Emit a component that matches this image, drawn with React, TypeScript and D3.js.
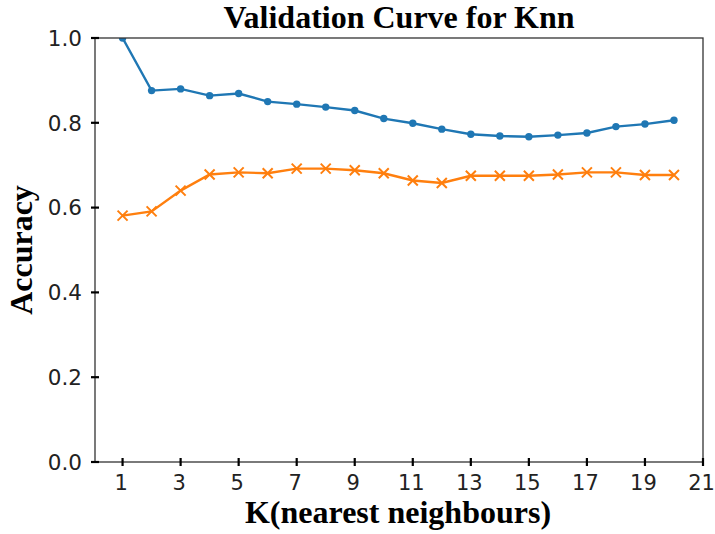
import React from "react";
import * as d3 from "d3";

// K values (number of nearest neighbours)
const kValues: number[] = [1, 2, 3, 4, 5, 6, 7, 8, 9, 10, 11, 12, 13, 14, 15, 16, 17, 18, 19, 20];
// Training accuracy
const trainScores: number[] = [1.0, 0.876, 0.88, 0.864, 0.869, 0.85, 0.844, 0.837, 0.829, 0.81, 0.799, 0.785, 0.773, 0.769, 0.767, 0.771, 0.776, 0.791, 0.797, 0.806];
// Validation accuracy
const testScores: number[] = [0.581, 0.591, 0.64, 0.678, 0.683, 0.681, 0.692, 0.692, 0.688, 0.681, 0.664, 0.658, 0.675, 0.675, 0.675, 0.678, 0.683, 0.683, 0.677, 0.677];
const xTicks: number[] = [1, 3, 5, 7, 9, 11, 13, 15, 17, 19, 21];
const yTicks: number[] = [0, 0.2, 0.4, 0.6, 0.8, 1.0];

const W = 715;
const H = 534;
const M = { left: 95, right: 703, top: 38, bottom: 462 };

export default function App() {
  const x = d3.scaleLinear().domain([0.05, 21]).range([M.left, M.right]);
  const y = d3.scaleLinear().domain([0, 1]).range([M.bottom, M.top]);

  const line = d3
    .line<number>()
    .x((_, i) => x(kValues[i]))
    .y((d) => y(d));

  const serif = "'Liberation Serif', 'Times New Roman', serif";
  const sans = "'DejaVu Sans', sans-serif";
  const blue = "#1f77b4";
  const orange = "#ff7f0e";
  const xr = 5;

  return (
    <svg width={W} height={H} style={{ position: "absolute", left: 0, top: 0, background: "#fff" }}>
      <defs>
        <clipPath id="plot-clip">
          <rect x={M.left} y={M.top} width={M.right - M.left} height={M.bottom - M.top} />
        </clipPath>
      </defs>

      <g clipPath="url(#plot-clip)">
        <path d={line(trainScores) || ""} fill="none" stroke={blue} strokeWidth={2.4} />
        {trainScores.map((v, i) => (
          <circle key={`t${i}`} cx={x(kValues[i])} cy={y(v)} r={3.7} fill={blue} />
        ))}
        <path d={line(testScores) || ""} fill="none" stroke={orange} strokeWidth={2.4} />
        {testScores.map((v, i) => {
          const cx = x(kValues[i]);
          const cy = y(v);
          return (
            <path
              key={`v${i}`}
              d={`M${cx - xr},${cy - xr}L${cx + xr},${cy + xr}M${cx - xr},${cy + xr}L${cx + xr},${cy - xr}`}
              stroke={orange}
              strokeWidth={2}
              fill="none"
            />
          );
        })}
      </g>

      {/* frame */}
      <rect
        x={M.left}
        y={M.top}
        width={M.right - M.left}
        height={M.bottom - M.top}
        fill="none"
        stroke="#333"
        strokeWidth={1.3}
      />

      {/* x ticks */}
      {xTicks.map((t) => (
        <g key={`xt${t}`}>
          <line x1={x(t)} x2={x(t)} y1={M.bottom - 4} y2={M.bottom + 4} stroke="#000" strokeWidth={2.2} />
          <text x={x(t) - 1.5} y={490} textAnchor="middle" fontFamily={sans} fontSize={21} fill="#222">
            {t}
          </text>
        </g>
      ))}

      {/* y ticks */}
      {yTicks.map((t) => (
        <g key={`yt${t}`}>
          <line x1={M.left - 4} x2={M.left + 4} y1={y(t)} y2={y(t)} stroke="#000" strokeWidth={2.2} />
          <text
            x={82}
            y={y(t)}
            dy="0.36em"
            textAnchor="end"
            fontFamily={sans}
            fontSize={21.5}
            fill="#222"
          >
            {t.toFixed(1)}
          </text>
        </g>
      ))}

      <text x={399} y={28} textAnchor="middle" fontFamily={serif} fontWeight="bold" fontSize={32} fill="#000">
        Validation Curve for Knn
      </text>
      <text x={398} y={523} textAnchor="middle" fontFamily={serif} fontWeight="bold" fontSize={32} fill="#000">
        K(nearest neighbours)
      </text>
      <text
        transform={`translate(32,${(M.top + M.bottom) / 2}) rotate(-90)`}
        textAnchor="middle"
        fontFamily={serif}
        fontWeight="bold"
        fontSize={32}
        fill="#000"
      >
        Accuracy
      </text>
    </svg>
  );
}
